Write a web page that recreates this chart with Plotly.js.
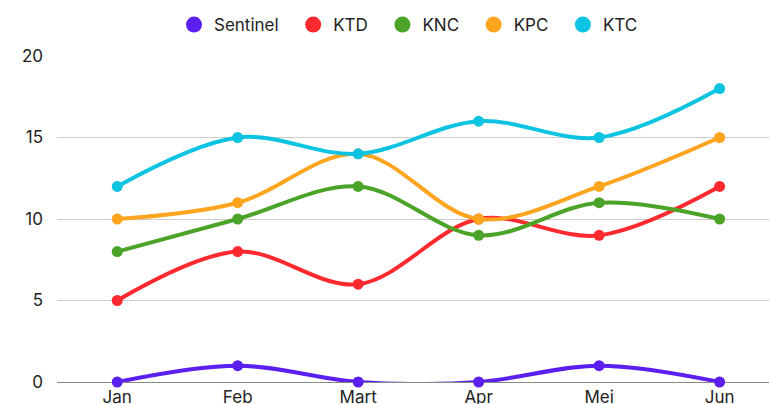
<!DOCTYPE html>
<html>
<head>
<meta charset="utf-8">
<script src="https://cdn.plot.ly/plotly-3.0.1.min.js"></script>
<style>
  html, body { margin: 0; padding: 0; background: #fff; }
  #chart { width: 769px; height: 404px; }
</style>
</head>
<body>
<div id="chart"></div>
<script>
const months = ['Jan', 'Feb', 'Mart', 'Apr', 'Mei', 'Jun'];

const sentinel = [0, 1, 0, 0, 1, 0];
const ktd = [5, 8, 6, 10, 9, 12];
const knc = [8, 10, 12, 9, 11, 10];
const kpc = [10, 11, 14, 10, 12, 15];
const ktc = [12, 15, 14, 16, 15, 18];

const seriesNames = ['Sentinel', 'KTD', 'KNC', 'KPC', 'KTC'];
const seriesValues = [sentinel, ktd, knc, kpc, ktc];
const colors = ['#5b1ff0', '#ff2a2f', '#4ba327', '#ffa41f', '#0cc3e1'];

const data = [];

// lines (legend hidden, drawn in order so KTC ends up on top)
seriesValues.forEach((vals, i) => {
    data.push({
        x: months, y: vals,
        type: 'scatter', mode: 'lines+markers',
        name: seriesNames[i],
        showlegend: false,
        cliponaxis: false,
        line: { color: colors[i], width: 4, shape: 'spline', smoothing: 1 },
        marker: { color: colors[i], size: 11 }
    });
});

// legend-only entries, just a dot (nbsp pad widens the gap between items)
seriesNames.forEach((name, i) => {
    data.push({
        x: [null], y: [null],
        type: 'scatter', mode: 'markers',
        name: name + '\u00a0\u00a0',
        marker: { color: colors[i], size: 18 }
    });
});

Plotly.newPlot('chart', data, {
    width: 769, height: 404,
    margin: { l: 57, r: 0, t: 56, b: 22 },
    paper_bgcolor: '#fff', plot_bgcolor: '#fff',
    font: { family: 'Inter, sans-serif', size: 17, color: '#222' },
    showlegend: true,
    legend: {
        orientation: 'h',
        x: 0.5, xanchor: 'center',
        y: 1.095, yanchor: 'middle',
        font: { size: 17, color: '#222' },
        itemclick: false
    },
    xaxis: {
        type: 'category',
        range: [-0.5, 5.41],
        showgrid: false, zeroline: false,
        showline: false,
        ticks: '', ticklen: 0,
        ticklabelstandoff: 3,
        tickfont: { size: 17 },
        fixedrange: true
    },
    yaxis: {
        range: [0, 20],
        tickvals: [0, 5, 10, 15, 20],
        showgrid: true, gridcolor: '#cccccc', gridwidth: 1,
        zeroline: true, zerolinecolor: '#888888', zerolinewidth: 1,
        ticks: '', ticklabelstandoff: 13,
        tickfont: { size: 17 },
        fixedrange: true
    }
}, { displayModeBar: false, staticPlot: true });
</script>
</body>
</html>
